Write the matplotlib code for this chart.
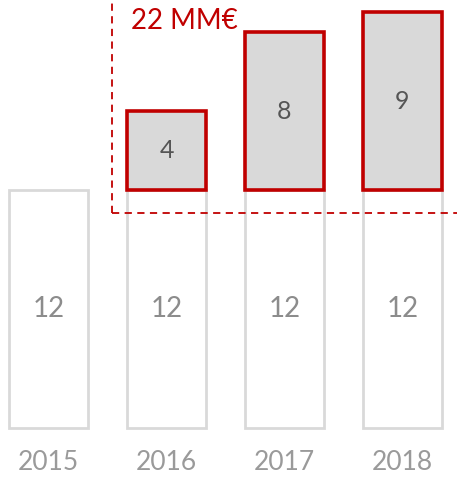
import matplotlib
matplotlib.use("Agg")
import matplotlib.pyplot as plt

years = ["2015", "2016", "2017", "2018"]
base = [12, 12, 12, 12]
extra = [0, 4, 8, 9]
total_label = "22 MM€"

plt.rcParams['font.family'] = ['Lato', 'DejaVu Sans']

fig = plt.figure(figsize=(4.57, 4.82), dpi=100)
ax = fig.add_axes([0, 0, 1, 1])
# pixel mapping: y=0 at 428 px from top, 19.8 px per unit
ax.set_xlim(-0.411, 3.462)
ax.set_ylim(-(482 - 428) / 19.8, 428 / 19.8)
ax.axis('off')

x = list(range(len(years)))
w = 0.665
ax.bar(x, base, width=w, color='white', edgecolor='#d9d9d9', linewidth=2.0, zorder=2)
for i in x:
    ax.text(i, base[i] / 2, str(base[i]), ha='center', va='center',
            fontsize=20, color='#8c8c8c', zorder=4)
    ax.text(i, -1.75, years[i], ha='center', va='center',
            fontsize=19, color='#9a9a9a', zorder=4)
    if extra[i] > 0:
        ax.bar(i, extra[i], bottom=base[i], width=w, color='#d9d9d9',
               edgecolor='#c00000', linewidth=2.6, zorder=3)
        ax.text(i, base[i] + extra[i] / 2, str(extra[i]), ha='center', va='center',
                fontsize=18, color='#555555', zorder=4)

ax.plot([0.54, 0.54], [10.85, 22.5], color='#c00000', lw=1.3, ls=(0, (4, 3)), zorder=5, clip_on=False)
ax.plot([0.54, 3.6], [10.85, 10.85], color='#c00000', lw=1.3, ls=(0, (4, 3)), zorder=5, clip_on=False)
ax.text(0.70, 20.55, total_label, ha='left', va='center', fontsize=20,
        color='#c00000', zorder=6)

fig.savefig("out.png", dpi=100)
